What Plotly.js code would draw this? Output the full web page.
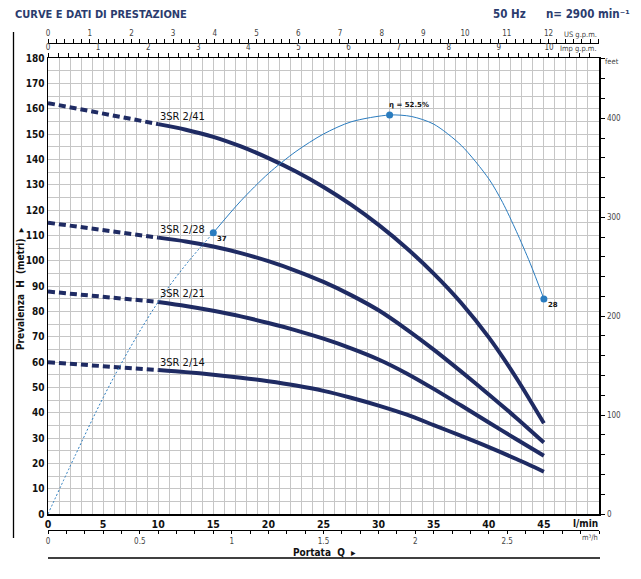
<!DOCTYPE html>
<html>
<head>
<meta charset="utf-8">
<script src="https://cdn.plot.ly/plotly-3.0.1.min.js"></script>
<style>body{margin:0;background:#fff}</style>
</head>
<body>
<div id="chart" style="width:641px;height:579px"></div>
<script>
// portata Q (l/min) / prevalenza H (m)
var qDash = [0, 5, 10];
var qPump = [10, 12.5, 15, 17.5, 20, 22.5, 25, 27.5, 30, 32.5, 35, 37.5, 40, 42.5, 45];

var pumpNames = ["3SR 2/41", "3SR 2/28", "3SR 2/21", "3SR 2/14"];
var hDash41 = [162.2, 158.1, 153.9];
var hDash28 = [115, 112.1, 109.1];
var hDash21 = [87.8, 85.8, 83.7];
var hDash14 = [59.9, 58.4, 56.8];
var h41 = [153.9, 151.7, 148.9, 145.1, 140.5, 135.2, 129.1, 122.1, 114.1, 105.1, 94.9, 83.3, 69.7, 53.7, 35.8];
var h28 = [109.1, 107.6, 105.6, 103.0, 99.8, 96.0, 91.6, 86.4, 80.4, 73.0, 64.9, 56.2, 47.2, 37.9, 28.2];
var h21 = [83.7, 82.1, 80.2, 78.0, 75.4, 72.5, 69.2, 65.4, 61.0, 55.6, 49.4, 42.8, 36.1, 29.5, 23.0];
var h14 = [56.8, 56.0, 55.0, 53.8, 52.4, 50.7, 48.6, 45.9, 42.8, 39.3, 35.1, 30.8, 26.4, 21.7, 16.7];

// rendimento (%)
var qEtaDot = [0, 2.5, 5, 7.5, 10, 12.5, 15];
var etaDot = [0, 7.8, 15.3, 22, 27.9, 32.8, 37];
var qEta = [15, 17.5, 20, 22.5, 25, 27.5, 31, 33, 35, 37.5, 40, 41.25, 42.5, 43.75, 45];
var eta = [37, 41.2, 44.8, 47.7, 50.0, 51.6, 52.5, 52.3, 51.3, 48.5, 44.1, 41.0, 37.2, 33.0, 28.3];
var qEtaPts = [15, 31, 45];
var etaPts = [37, 52.5, 28.3];
var etaLabels = ["37", "η = 52.5%", "28"];

// tick labels
var qTicks = [0, 5, 10, 15, 20, 25, 30, 35, 40, 45];
var hTicks = [0, 10, 20, 30, 40, 50, 60, 70, 80, 90, 100, 110, 120, 130, 140, 150, 160, 170, 180];
var usTicks = [0, 1, 2, 3, 4, 5, 6, 7, 8, 9, 10, 11, 12];
var impTicks = [0, 1, 2, 3, 4, 5, 6, 7, 8, 9, 10];
var m3hTicks = [0, 0.5, 1, 1.5, 2, 2.5];
var feetTicks = [0, 100, 200, 300, 400];

var NAVY = "#1f2b63", BLUE = "#2a7cbf", GRID = "#c6c6c6", HEAD = "#2b3c6e";
var fontN = "'Liberation Sans Narrow', 'Arial Narrow', 'DejaVu Sans Condensed', sans-serif";

// pixel -> paper helpers (plot region 48..599 x 43..530)
function px(x) { return (x - 48) / 551; }
function py(y) { return (530 - y) / 487; }

var dashes = [hDash41, hDash28, hDash21, hDash14];
var solids = [h41, h28, h21, h14];
var data = [];
for (var i = 0; i < 4; i++) {
    data.push({x: qDash, y: dashes[i], mode: "lines", line: {color: NAVY, width: 4, dash: "7px,4px"}, hoverinfo: "skip"});
    data.push({x: qPump, y: solids[i], mode: "lines", line: {color: NAVY, width: 4, shape: "spline", smoothing: 0.8}, name: pumpNames[i]});
}
data.push({x: qEtaDot, y: etaDot, yaxis: "y3", mode: "lines", line: {color: BLUE, width: 1, dash: "2px,2px", shape: "spline"}, hoverinfo: "skip"});
data.push({x: qEta, y: eta, yaxis: "y3", mode: "lines", line: {color: BLUE, width: 1, shape: "spline", smoothing: 0.8}});
data.push({x: qEtaPts, y: etaPts, yaxis: "y3", mode: "markers", marker: {color: BLUE, size: 7}});
// empty traces so the extra scales get drawn
data.push({x: [], y: [], xaxis: "x2"});
data.push({x: [], y: [], xaxis: "x3"});
data.push({x: [], y: [], xaxis: "x4"});
data.push({x: [], y: [], yaxis: "y2"});

var ann = [];
function txt(t, x, y, opt) {
    var a = {text: t, x: x, y: y, xref: "paper", yref: "paper", showarrow: false,
             xanchor: "left", yanchor: "middle", font: {family: fontN, size: 10, color: "#111"}};
    for (var k in opt) a[k] = opt[k];
    ann.push(a);
}
txt("CURVE E DATI DI PRESTAZIONE", px(13), py(14), {font: {family: fontN, size: 11, color: HEAD, weight: "bold"}});
txt("50 Hz", px(491), py(14), {font: {family: fontN, size: 11.5, color: HEAD, weight: "bold"}});
txt("n= 2900 min⁻¹", px(544), py(14), {font: {family: fontN, size: 11.5, color: HEAD, weight: "bold"}});
txt("US g.p.m.", px(599), py(35), {xanchor: "right", font: {family: fontN, size: 7.5, color: "#444"}});
txt("Imp g.p.m.", px(599), py(49), {xanchor: "right", font: {family: fontN, size: 7.5, color: "#444"}});
txt("feet", px(603), py(61), {font: {family: fontN, size: 7.5, color: "#444"}});
txt("l/min", px(600), py(523), {xanchor: "right", font: {family: fontN, size: 10, color: "#111", weight: "bold"}});
txt("m³/h", px(600), py(537), {xanchor: "right", font: {family: fontN, size: 7.5, color: "#444"}});
txt("Portata  Q  ▸", px(324), py(552), {xanchor: "center", font: {family: fontN, size: 10, color: "#111", weight: "bold"}});
txt("Prevalenza  H  (metri)  ▸", px(20), py(289), {xanchor: "center", textangle: -90, font: {family: fontN, size: 10, color: "#111", weight: "bold"}});

for (var j = 0; j < 4; j++) {
    ann.push({text: pumpNames[j], x: qDash[2], y: dashes[j][2], xref: "x", yref: "y", showarrow: false,
              xanchor: "left", yanchor: "middle", yshift: 8, font: {family: fontN, size: 11, color: "#111"}});
}
for (var m = 0; m < 3; m++) {
    ann.push({text: etaLabels[m], x: qEtaPts[m], y: etaPts[m], xref: "x", yref: "y3", showarrow: false,
              xanchor: "left", yanchor: "middle", xshift: m == 1 ? -3 : 2, yshift: m == 1 ? 10 : -6,
              font: {family: "DejaVu Sans, sans-serif", size: 7, color: "#111", weight: "bold"}});
}

var topAxis = {
    overlaying: "x", side: "top", ticks: "outside", ticklen: 4, tickcolor: "#000", tickwidth: 1,
    showline: true, linecolor: "#000", linewidth: 1.3, showgrid: false, zeroline: false,
    tickfont: {family: fontN, size: 8, color: "#444"},
    minor: {dtick: 0.2, ticks: "outside", ticklen: 4, tickcolor: "#000", showgrid: false}
};
function copy(o, extra) { var r = JSON.parse(JSON.stringify(o)); for (var k in extra) r[k] = extra[k]; return r; }

var layout = {
    width: 641, height: 579,
    margin: {l: 48, r: 42, t: 43, b: 49},
    paper_bgcolor: "#fff", plot_bgcolor: "#fff",
    showlegend: false,
    xaxis: {
        range: [0, 50], tickmode: "array", tickvals: qTicks, ticks: "",
        showline: true, mirror: true, linecolor: "#000", linewidth: 1.5,
        showgrid: true, gridcolor: GRID, gridwidth: 1, zeroline: false,
        minor: {dtick: 1, showgrid: true, gridcolor: GRID, gridwidth: 1},
        tickfont: {family: fontN, size: 10.5, color: "#111", weight: "bold"}
    },
    yaxis: {
        domain: [py(514), py(58)], range: [0, 180], tickmode: "array", tickvals: hTicks, ticks: "",
        showline: true, mirror: true, linecolor: "#000", linewidth: 1.5,
        showgrid: true, gridcolor: GRID, gridwidth: 1, zeroline: false,
        minor: {dtick: 5, showgrid: true, gridcolor: GRID, gridwidth: 1},
        tickfont: {family: fontN, size: 10, color: "#111", weight: "bold"}
    },
    xaxis2: copy(topAxis, {anchor: "free", position: 1, range: [0, 50 / 3.785], tickmode: "array", tickvals: usTicks}),
    xaxis3: copy(topAxis, {anchor: "y", range: [0, 50 / 4.546], tickmode: "array", tickvals: impTicks}),
    xaxis4: copy(topAxis, {anchor: "free", position: 0, side: "bottom", range: [0, 3], tickmode: "array",
                           tickvals: m3hTicks, ticklen: 3, minor: {dtick: 0.1, ticks: "outside", ticklen: 3, tickcolor: "#000", showgrid: false}}),
    yaxis2: {
        overlaying: "y", side: "right", anchor: "x", range: [0, 461], tickmode: "array", tickvals: feetTicks,
        ticks: "outside", ticklen: 5, tickcolor: "#000", showgrid: false, zeroline: false,
        showline: true, linecolor: "#000", linewidth: 1.3,
        tickfont: {family: fontN, size: 8, color: "#444"},
        minor: {dtick: 20, ticks: "outside", ticklen: 5, tickcolor: "#000", showgrid: false}
    },
    yaxis3: {overlaying: "y", range: [0, 60], visible: false},
    annotations: ann,
    shapes: [
        {type: "line", xref: "paper", yref: "paper", x0: px(13.5), x1: px(13.5), y0: py(32), y1: py(538), line: {color: "#000", width: 1.3}},
        {type: "line", xref: "paper", yref: "paper", x0: 0, x1: px(600), y0: py(558), y1: py(558), line: {color: "#000", width: 1.3}}
    ]
};

Plotly.newPlot("chart", data, layout, {staticPlot: true});
</script>
</body>
</html>
